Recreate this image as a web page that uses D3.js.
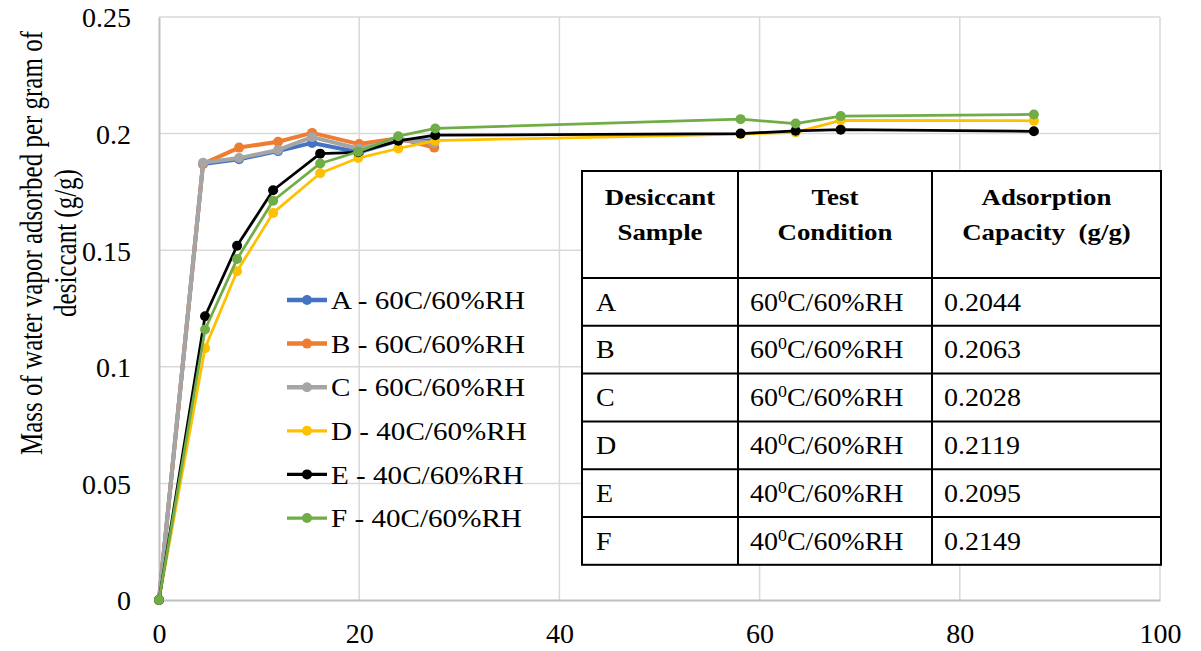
<!DOCTYPE html>
<html>
<head>
<meta charset="utf-8">
<script src="https://cdn.jsdelivr.net/npm/d3@7"></script>
<style>
  body { margin: 0; background: #fff; }
  text { font-family: "Liberation Serif", "Times New Roman", serif; fill: #000; }
</style>
</head>
<body>
<div id="chart"></div>
<script>
// data
var xABC = [0, 4.4, 8.0, 11.9, 15.3, 20.0, 23.9, 27.5];
var seriesA = [0, 0.187, 0.189, 0.1925, 0.196, 0.192, 0.197, 0.197];
var seriesB = [0, 0.187, 0.194, 0.1965, 0.2003, 0.1955, 0.198, 0.194];
var seriesC = [0, 0.1875, 0.1895, 0.193, 0.1985, 0.1935, 0.1975, 0.196];

var xDEF = [0, 4.6, 7.8, 11.4, 16.1, 19.9, 23.9, 27.6, 58.1, 63.6, 68.1, 87.4];
var seriesD = [0, 0.108, 0.141, 0.166, 0.183, 0.1895, 0.1936, 0.197, 0.1998, 0.2005, 0.2057, 0.2055];
var seriesE = [0, 0.1217, 0.1519, 0.1757, 0.1914, 0.192, 0.1969, 0.1993, 0.2, 0.2012, 0.2017, 0.201];
var seriesF = [0, 0.116, 0.1462, 0.1712, 0.1872, 0.1922, 0.1989, 0.2022, 0.2062, 0.2043, 0.2075, 0.2082];

var legendLabels = ["A - 60C/60%RH", "B - 60C/60%RH", "C - 60C/60%RH",
                    "D - 40C/60%RH", "E - 40C/60%RH", "F - 40C/60%RH"];

var xTicks = [0, 20, 40, 60, 80, 100];
var yTicks = [0, 0.05, 0.1, 0.15, 0.2, 0.25];

// table contents
var tableHeader = [["Desiccant", "Sample"], ["Test", "Condition"], ["Adsorption", "Capacity  (g/g)"]];
var samples = ["A", "B", "C", "D", "E", "F"];
var temps = ["60", "60", "60", "40", "40", "40"];
var capacities = ["0.2044", "0.2063", "0.2028", "0.2119", "0.2095", "0.2149"];

var SX = 1.12; // text in the picture is a bit wide

var series = [
  {x: xABC, y: seriesA, color: "#4472C4", w: 4, r: 5},
  {x: xABC, y: seriesB, color: "#ED7D31", w: 4, r: 5},
  {x: xABC, y: seriesC, color: "#A5A5A5", w: 4, r: 5},
  {x: xDEF, y: seriesD, color: "#FFC000", w: 2.75, r: 5},
  {x: xDEF, y: seriesE, color: "#000000", w: 2.75, r: 5},
  {x: xDEF, y: seriesF, color: "#70AD47", w: 2.75, r: 5}
];

var W = 1201, H = 651;
var margin = {top: 17, right: 41, bottom: 51, left: 159},
    width = W - margin.left - margin.right,
    height = H - margin.top - margin.bottom;

var x = d3.scaleLinear().domain([0, 100]).range([0, width]);
var y = d3.scaleLinear().domain([0, 0.25]).range([height, 0]);

var svg = d3.select("#chart").append("svg")
  .attr("width", W)
  .attr("height", H);

var g = svg.append("g")
  .attr("transform", "translate(" + margin.left + "," + margin.top + ")");

// gridlines
g.append("g")
  .selectAll("line.h").data(yTicks.slice(1)).enter().append("line")
  .attr("x1", 0).attr("x2", width)
  .attr("y1", function(d) { return y(d); }).attr("y2", function(d) { return y(d); })
  .attr("stroke", "#d9d9d9").attr("stroke-width", 1.5);
g.append("g")
  .selectAll("line.v").data(xTicks.slice(1)).enter().append("line")
  .attr("y1", 0).attr("y2", height)
  .attr("x1", function(d) { return x(d); }).attr("x2", function(d) { return x(d); })
  .attr("stroke", "#d9d9d9").attr("stroke-width", 1.5);

// axes
var xAxis = g.append("g")
  .attr("transform", "translate(0," + height + ")")
  .call(d3.axisBottom(x).tickValues(xTicks).tickSize(0).tickFormat(d3.format("d")));
xAxis.select(".domain").attr("stroke", "#bfbfbf").attr("stroke-width", 2);
xAxis.selectAll("text")
  .attr("y", 43).attr("dy", 0)
  .style("font-size", "28px");

var yAxis = g.append("g")
  .call(d3.axisLeft(y).tickValues(yTicks).tickSize(0).tickFormat(function(d) { return d3.format("")(+d.toFixed(2)); }));
yAxis.select(".domain").attr("stroke", "#bfbfbf").attr("stroke-width", 2);
yAxis.selectAll("text")
  .attr("x", -28).attr("dy", "0.35em")
  .style("font-size", "28px");
svg.selectAll(".tick text").attr("fill", "#000").style("font-family", "'Liberation Serif', 'Times New Roman', serif");

// lines and markers
var line = d3.line()
  .x(function(d) { return x(d[0]); })
  .y(function(d) { return y(d[1]); });

series.forEach(function(s) {
  var pts = s.x.map(function(v, i) { return [v, s.y[i]]; });
  g.append("path")
    .datum(pts)
    .attr("fill", "none")
    .attr("stroke", s.color)
    .attr("stroke-width", s.w)
    .attr("stroke-linejoin", "round")
    .attr("d", line);
  g.selectAll(null).data(pts).enter().append("circle")
    .attr("cx", function(d) { return x(d[0]); })
    .attr("cy", function(d) { return y(d[1]); })
    .attr("r", s.r)
    .attr("fill", s.color);
});

// y axis title
var TS = 1.25;
var yTitle = svg.append("text")
  .attr("transform", "translate(0,243) rotate(-90) scale(1," + TS + ")")
  .style("font-size", "25px")
  .attr("text-anchor", "middle");
yTitle.append("tspan").attr("x", 0).attr("y", 32 / TS).attr("dominant-baseline", "central")
  .text("Mass of water vapor adsorbed per gram of");
yTitle.append("tspan").attr("x", 0).attr("y", 66 / TS).attr("dominant-baseline", "central")
  .text("desiccant (g/g)");

// legend
var legend = svg.append("g").attr("transform", "translate(287,300)");
series.forEach(function(s, i) {
  var row = legend.append("g").attr("transform", "translate(0," + (i * 43.6) + ")");
  row.append("line").attr("x1", 0).attr("x2", 40).attr("y1", 0).attr("y2", 0)
    .attr("stroke", s.color).attr("stroke-width", s.w + 0.5);
  row.append("circle").attr("cx", 20).attr("cy", 0).attr("r", s.r).attr("fill", s.color);
  row.append("text")
    .attr("transform", "translate(44,0) scale(" + SX + ",1)")
    .attr("dy", "0.35em")
    .style("font-size", "26px")
    .style("white-space", "pre")
    .text(legendLabels[i]);
});

// table
var tLeft = 582, tTop = 171, colX = [582, 738, 932, 1161], headH = 107, rowH = 47.8;
var tBottom = tTop + headH + rowH * samples.length;
var table = svg.append("g");
table.append("rect")
  .attr("x", tLeft).attr("y", tTop)
  .attr("width", colX[3] - tLeft).attr("height", tBottom - tTop)
  .attr("fill", "#fff").attr("stroke", "#000").attr("stroke-width", 2);
[1, 2].forEach(function(i) {
  table.append("line").attr("x1", colX[i]).attr("x2", colX[i]).attr("y1", tTop).attr("y2", tBottom)
    .attr("stroke", "#000").attr("stroke-width", 2);
});
d3.range(samples.length).forEach(function(i) {
  var yy = tTop + headH + rowH * i;
  table.append("line").attr("x1", tLeft).attr("x2", colX[3]).attr("y1", yy).attr("y2", yy)
    .attr("stroke", "#000").attr("stroke-width", 2);
});
tableHeader.forEach(function(h, c) {
  var cx = (colX[c] + colX[c + 1]) / 2;
  h.forEach(function(t, k) {
    table.append("text")
      .attr("transform", "translate(" + cx + "," + (197 + k * 35) + ") scale(" + SX + ",1)")
      .attr("dy", "0.35em")
      .attr("text-anchor", "middle")
      .style("font-size", "24px")
      .style("font-weight", "bold")
      .style("white-space", "pre")
      .text(t);
  });
});
samples.forEach(function(s, i) {
  var cy = tTop + headH + rowH * (i + 0.5);
  table.append("text")
    .attr("transform", "translate(" + (colX[0] + 14) + "," + cy + ") scale(" + SX + ",1)")
    .attr("dy", "0.35em").style("font-size", "25px").text(s);
  var cond = table.append("text")
    .attr("transform", "translate(" + (colX[1] + 12) + "," + cy + ") scale(" + SX + ",1)")
    .attr("dy", "0.35em").style("font-size", "25px");
  cond.append("tspan").text(temps[i]);
  cond.append("tspan").attr("dy", -9).style("font-size", "16px").text("0");
  cond.append("tspan").attr("dy", 9).text("C/60%RH");
  table.append("text")
    .attr("transform", "translate(" + (colX[2] + 12) + "," + cy + ") scale(" + SX + ",1)")
    .attr("dy", "0.35em").style("font-size", "25px").text(capacities[i]);
});
</script>
</body>
</html>
